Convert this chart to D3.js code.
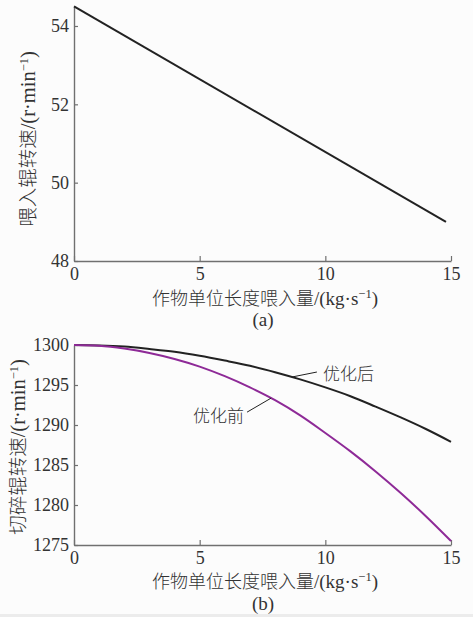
<!DOCTYPE html>
<html><head><meta charset="utf-8">
<script src="https://cdn.jsdelivr.net/npm/d3@7"></script>
<style>
html,body{margin:0;padding:0;background:#fcfcfc;}
svg{display:block;}
</style></head>
<body>
<script>
// ---- data ----
const feedX = [0, 14.8];
const feedRoll = [54.5, 49.0];
const xTicks = [0, 5, 10, 15];
const yTicksA = [48, 50, 52, 54];
const yTicksB = [1275, 1280, 1285, 1290, 1295, 1300];
const cutX = [0,1,2,3,4,5,6,7,8,9,10,11,12,13,14,15];
const cutAfter = [1300,1299.95,1299.8,1299.5,1299.15,1298.65,1298.05,1297.4,1296.6,1295.7,1294.7,1293.6,1292.3,1290.95,1289.5,1287.9];
const cutBefore = [1300,1299.9,1299.55,1299.0,1298.25,1297.3,1296.1,1294.7,1293.1,1291.2,1289.0,1286.7,1284.2,1281.5,1278.6,1275.5];
const seriesNames = ["优化后", "优化前"];
const xTitleCJK = "作物单位长度喂入量";
const xTitleUnit = "/(kg·s";
const yTitleACJK = "喂入辊转速";
const yTitleBCJK = "切碎辊转速";
const yTitleUnit = "/(r·min";
const panelLabels = ["(a)", "(b)"];

const W = 473, H = 617;
const SERIF = "Liberation Serif";
const CJK = "Noto Sans CJK SC";
const svg = d3.select("body").append("svg").attr("width", W).attr("height", H);
svg.append("rect").attr("width", W).attr("height", H).attr("fill", "#fcfcfc");
svg.append("rect").attr("y", 614).attr("width", W).attr("height", 3).attr("fill", "#ececec");

const axisColor = "#707070";
const textColor = "#333";

function styleAxis(g) {
  g.attr("font-family", SERIF).attr("font-size", 18);
  g.selectAll("path.domain").attr("stroke", axisColor).attr("stroke-width", 1.4);
  g.selectAll(".tick line").attr("stroke", axisColor).attr("stroke-width", 1.2);
  g.selectAll(".tick text").attr("fill", textColor).attr("font-family", SERIF).attr("font-size", 18);
}

function title(sel, cjk, unit, cs, us) {
  sel.attr("fill", textColor);
  sel.append("tspan").attr("font-family", CJK).attr("font-size", cs).attr("font-weight", 300).text(cjk);
  sel.append("tspan").attr("font-family", SERIF).attr("font-size", us).text(unit);
  sel.append("tspan").attr("font-family", SERIF).attr("font-size", 12.5).attr("dy", -7).text("−1");
  sel.append("tspan").attr("font-family", SERIF).attr("font-size", us).attr("dy", 7).text(")");
}

function panel(cfg) {
  const x = d3.scaleLinear().domain([0, 15]).range([74, 451]);
  const y = d3.scaleLinear().domain(cfg.yDomain).range(cfg.yRange);
  const g = svg.append("g");

  const gx = g.append("g").attr("transform", `translate(0,${cfg.yRange[0]})`)
    .call(d3.axisBottom(x).tickValues(xTicks).tickFormat(d3.format("d"))
      .tickSizeInner(-5).tickSizeOuter(0).tickPadding(6));
  styleAxis(gx);
  const gy = g.append("g").attr("transform", `translate(74,0)`)
    .call(d3.axisLeft(y).tickValues(cfg.yTicks).tickFormat(d3.format("d"))
      .tickSizeInner(-4).tickSizeOuter(0).tickPadding(5));
  styleAxis(gy);

  const line = d3.line().x(d => x(d[0])).y(d => y(d[1])).curve(d3.curveMonotoneX);
  cfg.series.forEach(s => {
    g.append("path").datum(s.pts).attr("fill", "none").attr("stroke", s.color)
      .attr("stroke-width", 2).attr("d", line);
  });

  const xt = g.append("text").attr("x", 265).attr("y", cfg.xTitleY)
    .attr("text-anchor", "middle");
  title(xt, xTitleCJK, xTitleUnit, 18, 19);
  const yt = g.append("text")
    .attr("transform", `translate(${cfg.yTitleX},${cfg.yTitleCY}) rotate(-90)`)
    .attr("text-anchor", "middle");
  title(yt, cfg.yTitle, yTitleUnit, 19.5, 20.5);
  g.append("text").attr("x", 263).attr("y", cfg.panelY).attr("text-anchor", "middle")
    .attr("font-size", 19).attr("fill", textColor).attr("font-family", SERIF).text(cfg.panel);
  return {x, y, g};
}

panel({
  yDomain: [48, 54.5], yRange: [261, 6.4], yTicks: yTicksA,
  series: [{pts: feedX.map((v, i) => [v, feedRoll[i]]), color: "#222"}],
  xTitleY: 305, yTitle: yTitleACJK, yTitleX: 35, yTitleCY: 139, panel: panelLabels[0], panelY: 326
});

const pb = panel({
  yDomain: [1275, 1300], yRange: [545, 345], yTicks: yTicksB,
  series: [
    {pts: cutX.map((v, i) => [v, cutAfter[i]]), color: "#222"},
    {pts: cutX.map((v, i) => [v, cutBefore[i]]), color: "#8e2a97"}
  ],
  xTitleY: 588, yTitle: yTitleBCJK, yTitleX: 25, yTitleCY: 447, panel: panelLabels[1], panelY: 610
});

function interp(xs, ys, xv) {
  for (let i = 0; i < xs.length - 1; i++) {
    if (xv >= xs[i] && xv <= xs[i + 1]) {
      const t = (xv - xs[i]) / (xs[i + 1] - xs[i]);
      return ys[i] + t * (ys[i + 1] - ys[i]);
    }
  }
  return ys[ys.length - 1];
}
const annA = {xv: 8.67, ys: cutAfter, dx: 25, dy: -5, tx: 323, ty: 8, name: seriesNames[0], anchor: "start"};
const annB = {xv: 7.84, ys: cutBefore, dx: -24, dy: 14, tx: 244, ty: 10, name: seriesNames[1], anchor: "end"};
[annA, annB].forEach(a => {
  const px = pb.x(a.xv), py = pb.y(interp(cutX, a.ys, a.xv));
  pb.g.append("line").attr("x1", px).attr("y1", py).attr("x2", px + a.dx).attr("y2", py + a.dy)
    .attr("stroke", "#222").attr("stroke-width", 1);
  pb.g.append("text").attr("x", a.tx).attr("y", py + a.dy + a.ty).attr("text-anchor", a.anchor)
    .attr("font-size", 17).attr("font-weight", 300).attr("fill", textColor)
    .attr("font-family", CJK).text(a.name);
});
</script>
</body></html>
